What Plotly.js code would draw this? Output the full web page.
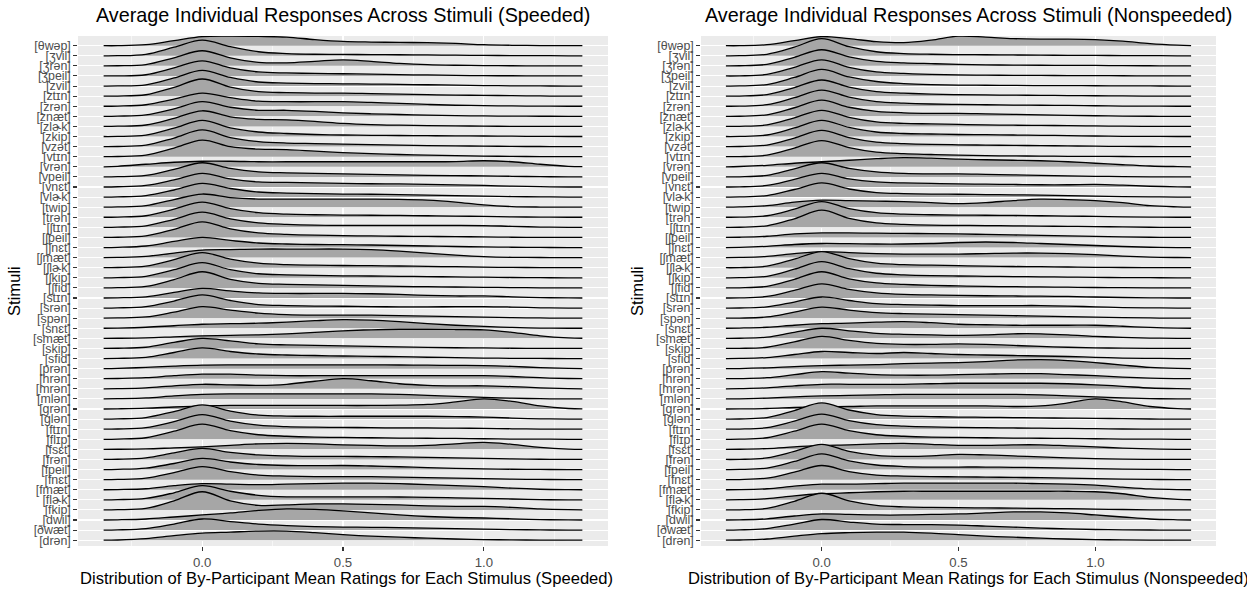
<!DOCTYPE html>
<html><head><meta charset="utf-8">
<script src="https://cdn.plot.ly/plotly-3.0.1.min.js"></script>
<style>html,body{margin:0;padding:0;background:#fff}#chart{width:1247px;height:589px}</style>
</head><body><div id="chart"></div>
<script>
const stimuli = ["[θwəp]","[ʒvil]","[ʒrən]","[ʒpeil]","[zvil]","[ztɪn]","[zrən]","[znæt]","[zlɚk]","[zkip]",
"[vzət]","[vtɪn]","[vrən]","[vpeil]","[vnɛt]","[vlɚk]","[twip]","[trən]","[ʃtɪn]","[ʃpeil]",
"[ʃnɛt]","[ʃmæt]","[ʃlɚk]","[ʃkip]","[ʃfid]","[stɪn]","[srən]","[spən]","[snɛt]","[smæt]",
"[skip]","[sfid]","[prən]","[hrən]","[mrən]","[mlən]","[grən]","[glən]","[ftɪn]","[flɪp]",
"[fsɛt]","[frən]","[fpeil]","[fnɛt]","[fmæt]","[flɚk]","[fkip]","[dwil]","[ðwæt]","[drən]"];
const densityX = [-0.35,-0.3,-0.2,-0.1,0,0.1,0.2,0.3,0.4,0.5,0.6,0.7,0.8,0.9,1.0,1.1,1.2,1.3,1.35];
const xTickVals = [0,0.5,1];
const xTickText = ["0.0","0.5","1.0"];
// ridge heights (in row units) at densityX, rows in stimuli order (top to bottom)
const speededHeights = [
[0,0,0.1,0.5,0.9,0.95,0.92,0.85,0.6,0.42,0.36,0.33,0.3,0.22,0.1,0.04,0.01,0,0],
[0,0.01,0.15,0.85,1.55,0.9,0.4,0.22,0.15,0.13,0.12,0.1,0.08,0.06,0.04,0.02,0.01,0,0],
[0,0.01,0.12,0.8,1.5,0.8,0.35,0.3,0.45,0.6,0.45,0.25,0.12,0.06,0.03,0.01,0,0,0],
[0,0.01,0.12,0.8,1.5,0.8,0.4,0.3,0.25,0.22,0.18,0.13,0.1,0.06,0.03,0.02,0.01,0,0],
[0,0.01,0.12,0.8,1.55,0.85,0.4,0.3,0.25,0.22,0.2,0.17,0.13,0.09,0.05,0.02,0.01,0,0],
[0,0.01,0.14,0.88,1.7,0.9,0.45,0.35,0.3,0.3,0.25,0.2,0.15,0.1,0.08,0.05,0.02,0,0],
[0,0.02,0.15,0.7,1.3,0.85,0.5,0.45,0.45,0.45,0.38,0.28,0.18,0.1,0.06,0.03,0.01,0,0],
[0,0.02,0.14,0.75,1.45,0.9,0.6,0.6,0.5,0.35,0.25,0.18,0.12,0.07,0.04,0.02,0.01,0,0],
[0,0.02,0.14,0.8,1.55,0.95,0.7,0.65,0.5,0.3,0.18,0.12,0.08,0.05,0.03,0.01,0,0,0],
[0,0.01,0.14,0.82,1.6,0.85,0.45,0.3,0.2,0.15,0.12,0.1,0.08,0.06,0.05,0.03,0.01,0,0],
[0,0.01,0.14,0.85,1.65,0.9,0.5,0.35,0.3,0.25,0.2,0.15,0.1,0.07,0.05,0.02,0.01,0,0],
[0,0.02,0.15,0.85,1.65,1.0,0.75,0.7,0.55,0.4,0.3,0.22,0.15,0.1,0.06,0.03,0.01,0,0],
[0,0.05,0.25,0.45,0.55,0.55,0.5,0.5,0.5,0.5,0.5,0.5,0.5,0.52,0.6,0.5,0.25,0.05,0.01],
[0,0.02,0.15,0.75,1.4,0.85,0.5,0.4,0.35,0.3,0.25,0.2,0.15,0.12,0.1,0.06,0.02,0,0],
[0,0.02,0.15,0.7,1.35,0.8,0.5,0.45,0.4,0.35,0.32,0.3,0.25,0.2,0.15,0.08,0.03,0,0],
[0,0.02,0.15,0.7,1.35,0.85,0.5,0.4,0.35,0.3,0.28,0.25,0.2,0.15,0.1,0.05,0.02,0,0],
[0,0.02,0.15,0.75,1.3,0.95,0.8,0.8,0.8,0.8,0.8,0.78,0.7,0.5,0.22,0.06,0.01,0,0],
[0,0.02,0.15,0.8,1.5,0.85,0.45,0.3,0.25,0.22,0.2,0.18,0.15,0.12,0.08,0.04,0.01,0,0],
[0,0.02,0.15,0.8,1.5,0.85,0.45,0.3,0.22,0.2,0.2,0.2,0.2,0.2,0.18,0.1,0.03,0,0],
[0,0.02,0.15,0.8,1.55,0.85,0.45,0.3,0.22,0.18,0.15,0.12,0.1,0.08,0.05,0.02,0.01,0,0],
[0,0.02,0.15,0.6,1.0,0.7,0.45,0.35,0.3,0.28,0.25,0.2,0.15,0.1,0.06,0.03,0.01,0,0],
[0,0.02,0.12,0.45,0.75,0.8,0.85,0.85,0.85,0.85,0.8,0.65,0.45,0.25,0.1,0.03,0.01,0,0],
[0,0.02,0.15,0.8,1.5,0.85,0.45,0.3,0.25,0.22,0.2,0.17,0.13,0.1,0.06,0.03,0.01,0,0],
[0,0.02,0.15,0.8,1.5,0.8,0.4,0.3,0.25,0.2,0.18,0.15,0.12,0.09,0.06,0.03,0.01,0,0],
[0,0.02,0.15,0.82,1.6,0.85,0.45,0.35,0.3,0.25,0.2,0.15,0.12,0.09,0.06,0.03,0.01,0,0],
[0,0.02,0.12,0.55,0.95,0.7,0.5,0.45,0.45,0.45,0.42,0.35,0.25,0.2,0.2,0.12,0.04,0.01,0],
[0,0.02,0.15,0.7,1.3,0.75,0.35,0.25,0.2,0.18,0.15,0.12,0.12,0.14,0.15,0.1,0.03,0,0],
[0,0.02,0.12,0.6,1.15,0.8,0.5,0.35,0.3,0.3,0.3,0.25,0.2,0.15,0.1,0.05,0.02,0,0],
[0,0.02,0.1,0.25,0.4,0.45,0.5,0.6,0.75,0.85,0.8,0.65,0.45,0.3,0.18,0.08,0.02,0,0],
[0,0.01,0.05,0.15,0.25,0.3,0.35,0.45,0.6,0.75,0.85,0.9,0.9,0.88,0.85,0.6,0.25,0.05,0.01],
[0,0.02,0.12,0.6,1.0,0.75,0.45,0.35,0.3,0.25,0.2,0.15,0.1,0.07,0.05,0.02,0.01,0,0],
[0,0.02,0.12,0.6,1.05,0.7,0.45,0.35,0.3,0.25,0.22,0.18,0.13,0.09,0.05,0.02,0.01,0,0],
[0,0.03,0.12,0.25,0.35,0.38,0.38,0.38,0.38,0.38,0.38,0.36,0.34,0.32,0.3,0.22,0.1,0.02,0],
[0,0.02,0.1,0.3,0.45,0.45,0.35,0.3,0.3,0.3,0.3,0.3,0.3,0.3,0.3,0.22,0.1,0.02,0],
[0,0.02,0.1,0.3,0.45,0.4,0.35,0.45,0.75,1.0,0.8,0.5,0.35,0.3,0.3,0.22,0.1,0.02,0],
[0,0.02,0.1,0.3,0.45,0.5,0.5,0.5,0.5,0.5,0.5,0.45,0.35,0.25,0.15,0.07,0.02,0,0],
[0,0.02,0.08,0.2,0.3,0.35,0.35,0.35,0.35,0.35,0.35,0.38,0.45,0.7,1.0,0.75,0.3,0.05,0.01],
[0,0.02,0.15,0.75,1.4,0.8,0.4,0.3,0.28,0.28,0.28,0.28,0.28,0.25,0.2,0.1,0.03,0,0],
[0,0.02,0.15,0.75,1.45,0.8,0.4,0.25,0.2,0.18,0.15,0.13,0.12,0.1,0.08,0.04,0.01,0,0],
[0,0.02,0.15,0.8,1.5,0.85,0.45,0.3,0.22,0.18,0.15,0.12,0.1,0.08,0.05,0.02,0.01,0,0],
[0,0.01,0.05,0.15,0.25,0.4,0.55,0.6,0.55,0.45,0.4,0.35,0.4,0.55,0.7,0.5,0.2,0.03,0],
[0,0.02,0.15,0.65,1.1,0.7,0.45,0.35,0.3,0.3,0.28,0.25,0.2,0.15,0.1,0.05,0.02,0,0],
[0,0.02,0.14,0.6,1.1,0.75,0.5,0.4,0.38,0.4,0.35,0.28,0.2,0.12,0.06,0.03,0.01,0,0],
[0,0.02,0.15,0.7,1.3,0.8,0.45,0.35,0.3,0.3,0.3,0.25,0.2,0.15,0.1,0.05,0.02,0,0],
[0,0.02,0.1,0.4,0.6,0.55,0.5,0.55,0.6,0.65,0.65,0.6,0.5,0.4,0.3,0.15,0.05,0.01,0],
[0,0.02,0.15,0.7,1.4,0.85,0.45,0.3,0.3,0.3,0.3,0.28,0.25,0.2,0.15,0.08,0.02,0,0],
[0,0.02,0.15,0.9,1.8,0.9,0.45,0.5,0.6,0.6,0.55,0.5,0.4,0.35,0.35,0.25,0.1,0.02,0],
[0,0.02,0.1,0.3,0.5,0.7,0.95,1.1,1.05,0.9,0.7,0.5,0.35,0.25,0.2,0.12,0.04,0.01,0],
[0,0.02,0.15,0.6,1.1,0.85,0.6,0.45,0.35,0.3,0.28,0.25,0.2,0.15,0.1,0.05,0.02,0,0],
[0,0.02,0.15,0.45,0.7,0.8,0.9,0.9,0.75,0.55,0.4,0.3,0.2,0.12,0.06,0.03,0.01,0,0]];
const nonspeededHeights = [
[0,0,0.1,0.5,0.9,0.7,0.4,0.3,0.55,0.95,0.85,0.7,0.65,0.65,0.6,0.45,0.2,0.05,0.01],
[0,0.01,0.15,0.85,1.7,0.9,0.4,0.22,0.15,0.12,0.1,0.08,0.06,0.05,0.04,0.02,0.01,0,0],
[0,0.01,0.15,0.85,1.6,0.9,0.45,0.3,0.22,0.15,0.1,0.08,0.06,0.05,0.04,0.02,0.01,0,0],
[0,0.01,0.15,0.85,1.6,0.85,0.4,0.25,0.15,0.1,0.08,0.06,0.05,0.04,0.03,0.02,0.01,0,0],
[0,0.01,0.15,0.85,1.65,0.9,0.45,0.25,0.15,0.1,0.08,0.06,0.05,0.04,0.03,0.02,0.01,0,0],
[0,0.01,0.15,0.85,1.6,0.9,0.45,0.3,0.2,0.15,0.12,0.1,0.08,0.06,0.04,0.02,0.01,0,0],
[0,0.01,0.15,0.85,1.6,0.9,0.45,0.3,0.22,0.18,0.15,0.12,0.1,0.08,0.05,0.02,0.01,0,0],
[0,0.01,0.15,0.85,1.6,0.9,0.5,0.35,0.3,0.3,0.25,0.2,0.15,0.1,0.06,0.03,0.01,0,0],
[0,0.01,0.15,0.85,1.6,0.9,0.45,0.3,0.25,0.2,0.15,0.12,0.1,0.08,0.05,0.02,0.01,0,0],
[0,0.01,0.15,0.85,1.6,0.9,0.45,0.3,0.25,0.2,0.18,0.15,0.12,0.09,0.05,0.02,0.01,0,0],
[0,0.01,0.15,0.85,1.6,0.9,0.45,0.3,0.22,0.18,0.15,0.12,0.1,0.07,0.04,0.02,0.01,0,0],
[0,0.01,0.15,0.85,1.6,0.9,0.45,0.3,0.22,0.15,0.1,0.08,0.06,0.04,0.03,0.02,0.01,0,0],
[0,0.03,0.15,0.35,0.5,0.65,0.8,0.9,0.85,0.75,0.7,0.65,0.6,0.5,0.35,0.2,0.08,0.02,0],
[0,0.01,0.15,0.8,1.4,0.85,0.5,0.35,0.3,0.3,0.25,0.2,0.15,0.1,0.06,0.03,0.01,0,0],
[0,0.01,0.15,0.75,1.35,0.8,0.5,0.4,0.35,0.3,0.28,0.25,0.22,0.22,0.25,0.18,0.07,0.01,0],
[0,0.01,0.15,0.75,1.4,0.8,0.45,0.35,0.3,0.28,0.25,0.22,0.2,0.15,0.1,0.05,0.02,0,0],
[0,0.02,0.15,0.5,0.7,0.65,0.6,0.55,0.45,0.35,0.45,0.65,0.8,0.75,0.65,0.45,0.15,0.03,0],
[0,0.01,0.15,0.8,1.55,0.85,0.45,0.3,0.25,0.22,0.2,0.18,0.15,0.12,0.08,0.04,0.01,0,0],
[0,0.01,0.15,0.85,1.7,0.9,0.45,0.3,0.22,0.2,0.18,0.15,0.12,0.1,0.08,0.04,0.01,0,0],
[0,0.02,0.12,0.35,0.45,0.45,0.42,0.4,0.38,0.35,0.3,0.25,0.2,0.15,0.1,0.05,0.02,0,0],
[0,0.02,0.12,0.3,0.4,0.38,0.35,0.35,0.4,0.5,0.55,0.5,0.4,0.3,0.2,0.1,0.03,0,0],
[0,0.02,0.12,0.4,0.6,0.5,0.4,0.35,0.35,0.35,0.4,0.45,0.45,0.4,0.3,0.15,0.05,0.01,0],
[0,0.01,0.15,0.85,1.6,0.9,0.45,0.3,0.25,0.2,0.15,0.12,0.1,0.07,0.04,0.02,0.01,0,0],
[0,0.01,0.15,0.85,1.6,0.9,0.45,0.3,0.22,0.18,0.15,0.12,0.1,0.07,0.04,0.02,0.01,0,0],
[0,0.01,0.15,0.85,1.6,0.9,0.5,0.35,0.25,0.2,0.15,0.12,0.1,0.07,0.04,0.02,0.01,0,0],
[0,0.01,0.15,0.75,1.4,0.85,0.5,0.35,0.3,0.25,0.22,0.2,0.18,0.15,0.1,0.05,0.02,0,0],
[0,0.01,0.12,0.6,1.1,0.75,0.45,0.35,0.3,0.25,0.25,0.25,0.25,0.2,0.12,0.05,0.02,0,0],
[0,0.01,0.12,0.6,1.1,0.8,0.55,0.45,0.4,0.35,0.3,0.25,0.2,0.15,0.1,0.05,0.02,0,0],
[0,0.02,0.1,0.3,0.45,0.5,0.6,0.65,0.55,0.4,0.35,0.3,0.3,0.3,0.3,0.2,0.08,0.01,0],
[0,0.01,0.12,0.6,1.0,0.75,0.5,0.4,0.35,0.3,0.35,0.45,0.45,0.35,0.2,0.1,0.03,0,0],
[0,0.01,0.12,0.65,1.2,0.8,0.5,0.4,0.4,0.45,0.4,0.3,0.2,0.12,0.06,0.03,0.01,0,0],
[0,0.01,0.1,0.4,0.7,0.6,0.5,0.6,0.5,0.4,0.35,0.3,0.25,0.2,0.12,0.05,0.02,0,0],
[0,0.01,0.08,0.2,0.3,0.35,0.4,0.5,0.55,0.6,0.7,0.85,0.9,0.8,0.6,0.35,0.12,0.02,0],
[0,0.01,0.1,0.4,0.7,0.55,0.4,0.35,0.35,0.4,0.45,0.5,0.5,0.4,0.3,0.15,0.05,0.01,0],
[0,0.02,0.1,0.3,0.45,0.45,0.45,0.45,0.5,0.55,0.55,0.55,0.55,0.5,0.4,0.25,0.08,0.01,0],
[0,0.01,0.08,0.2,0.3,0.35,0.4,0.45,0.45,0.45,0.45,0.45,0.4,0.3,0.2,0.1,0.03,0,0],
[0,0.01,0.05,0.15,0.22,0.25,0.3,0.3,0.3,0.3,0.3,0.25,0.3,0.6,1.0,0.7,0.25,0.04,0],
[0,0.01,0.15,0.85,1.6,0.9,0.45,0.3,0.25,0.2,0.18,0.15,0.12,0.1,0.08,0.04,0.01,0,0],
[0,0.01,0.15,0.8,1.5,0.85,0.45,0.3,0.22,0.18,0.15,0.12,0.1,0.08,0.05,0.02,0.01,0,0],
[0,0.01,0.15,0.8,1.5,0.85,0.45,0.3,0.22,0.18,0.15,0.12,0.1,0.08,0.05,0.02,0.01,0,0],
[0,0.01,0.08,0.25,0.4,0.45,0.55,0.6,0.5,0.4,0.4,0.45,0.45,0.35,0.25,0.12,0.04,0,0],
[0,0.01,0.15,0.8,1.5,0.8,0.4,0.3,0.35,0.5,0.45,0.35,0.25,0.15,0.08,0.03,0.01,0,0],
[0,0.01,0.15,0.8,1.55,0.85,0.45,0.3,0.25,0.25,0.25,0.22,0.2,0.15,0.1,0.05,0.02,0,0],
[0,0.01,0.15,0.75,1.4,0.8,0.45,0.35,0.3,0.28,0.25,0.22,0.2,0.15,0.1,0.05,0.02,0,0],
[0,0.01,0.1,0.35,0.55,0.55,0.6,0.65,0.65,0.65,0.65,0.65,0.6,0.55,0.45,0.25,0.08,0.01,0],
[0,0.02,0.12,0.4,0.6,0.7,0.8,0.85,0.85,0.85,0.85,0.85,0.85,0.85,0.8,0.6,0.25,0.05,0.01],
[0,0.01,0.15,0.85,1.65,0.9,0.45,0.3,0.25,0.22,0.2,0.18,0.15,0.12,0.08,0.04,0.01,0,0],
[0,0.02,0.12,0.4,0.6,0.55,0.5,0.5,0.55,0.6,0.7,0.8,0.8,0.7,0.5,0.3,0.1,0.02,0],
[0,0.02,0.15,0.6,1.05,0.8,0.6,0.55,0.55,0.5,0.4,0.3,0.2,0.12,0.06,0.03,0.01,0,0],
[0,0.02,0.12,0.4,0.65,0.75,0.8,0.8,0.7,0.55,0.4,0.3,0.2,0.12,0.06,0.03,0.01,0,0]];

const FONT = "Liberation Sans, Arimo, Arial, DejaVu Sans, sans-serif";
const W = 1247, H = 589;
const nRows = stimuli.length;

function ridgeTraces(heights, xa, ya) {
  const out = [];
  heights.forEach((h, i) => {
    const base = nRows - i;
    out.push({x: densityX, y: densityX.map(() => base), xaxis: xa, yaxis: ya, mode: 'lines',
      line: {width: 0, color: 'rgba(0,0,0,0)'}, hoverinfo: 'skip', showlegend: false});
    out.push({x: densityX, y: h.map(v => base + v), xaxis: xa, yaxis: ya, mode: 'lines',
      fill: 'tonexty', fillcolor: '#A6A6A6',
      line: {color: '#000000', width: 1.3, shape: 'spline', smoothing: 1},
      hoverinfo: 'skip', showlegend: false});
  });
  return out;
}

const data = ridgeTraces(speededHeights, 'x', 'y').concat(ridgeTraces(nonspeededHeights, 'x2', 'y2'));

const rowVals = stimuli.map((s, i) => nRows - i);
function xAxis(l, r, anchor) {
  return {domain: [l / W, r / W], anchor: anchor, range: [-0.441, 1.441],
    tickmode: 'array', tickvals: xTickVals, ticktext: xTickText,
    ticks: 'outside', ticklen: 3.7, tickwidth: 1.07, tickcolor: '#333333',
    tickfont: {family: FONT, size: 13.2, color: '#4D4D4D'},
    showgrid: true, gridcolor: '#FFFFFF', gridwidth: 1.07, zeroline: false, showline: false,
    minor: {tickmode: 'array', tickvals: [-0.25, 0.25, 0.75, 1.25], showgrid: true, gridcolor: '#FFFFFF', gridwidth: 0.53, ticks: ''},
    fixedrange: true};
}
function yAxis(anchor) {
  return {domain: [1 - 546 / H, 1 - 36 / H], anchor: anchor, range: [0.425, 50.96],
    tickmode: 'array', tickvals: rowVals, ticktext: stimuli,
    ticks: 'outside', ticklen: 3.7, tickwidth: 1.07, tickcolor: '#333333',
    tickfont: {family: FONT, size: 12.4, color: '#4D4D4D'},
    showgrid: true, gridcolor: '#FFFFFF', gridwidth: 1.07, zeroline: false, showline: false,
    fixedrange: true};
}
function ann(text, xpx, ypx, size, angle) {
  return {text: text, x: xpx / W, y: 1 - ypx / H, xref: 'paper', yref: 'paper',
    xanchor: 'center', yanchor: 'middle', showarrow: false, textangle: angle || 0,
    font: {family: FONT, size: size, color: '#000000'}};
}

const layout = {
  width: W, height: H, margin: {l: 0, r: 0, t: 0, b: 0},
  paper_bgcolor: '#FFFFFF', plot_bgcolor: '#EBEBEB', showlegend: false,
  xaxis: xAxis(78, 608, 'y'), yaxis: yAxis('x'),
  xaxis2: xAxis(701, 1216, 'y2'), yaxis2: yAxis('x2'),
  annotations: [
    ann('Average Individual Responses Across Stimuli (Speeded)', 343, 15, 19.8),
    ann('Average Individual Responses Across Stimuli (Nonspeeded)', 968, 15, 19.8),
    ann('Distribution of By-Participant Mean Ratings for Each Stimulus (Speeded)', 346, 578, 16.6),
    ann('Distribution of By-Participant Mean Ratings for Each Stimulus (Nonspeeded)', 968, 578, 16.6),
    ann('Stimuli', 14, 291, 16.6, -90),
    ann('Stimuli', 637, 291, 16.6, -90)
  ]
};
Plotly.newPlot('chart', data, layout, {displayModeBar: false, staticPlot: true});
</script></body></html>
